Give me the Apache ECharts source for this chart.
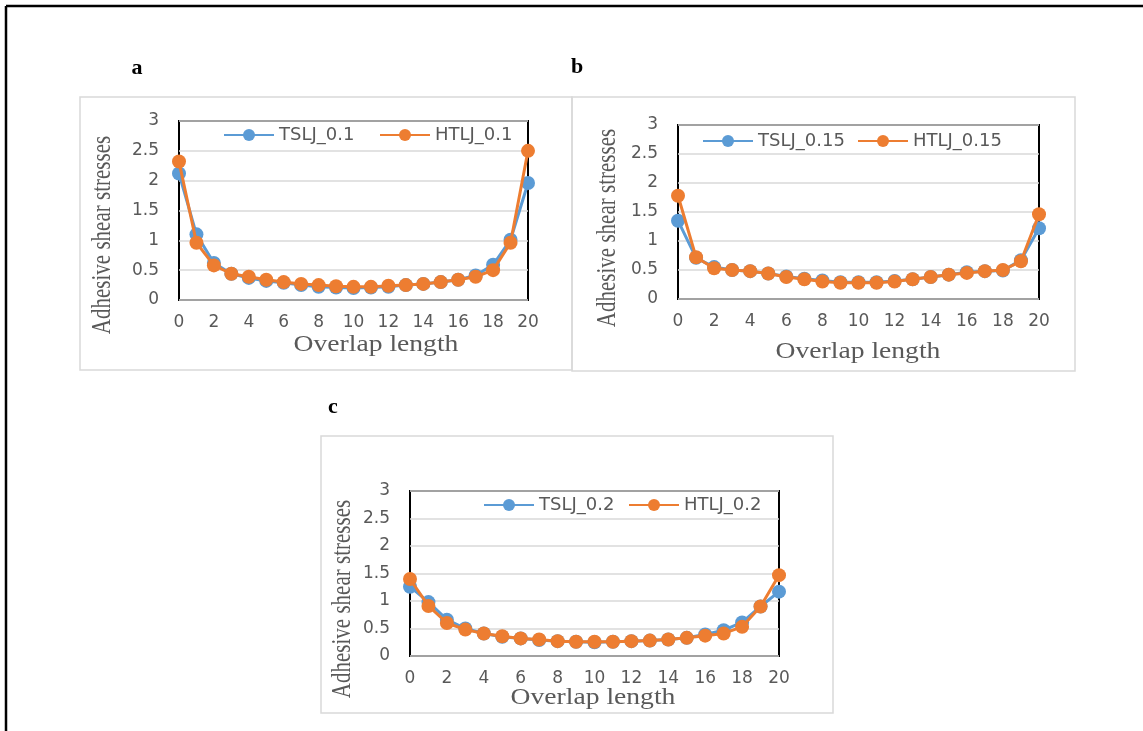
<!DOCTYPE html>
<html>
<head>
<meta charset="utf-8">
<script src="https://cdn.jsdelivr.net/npm/echarts@6/dist/echarts.min.js"></script>
<style>
html,body{margin:0;padding:0;background:#fff;}
#chart{width:1143px;height:731px;}
</style>
</head>
<body>
<div id="chart"></div>
<script>
// Data
var overlap = [0,1,2,3,4,5,6,7,8,9,10,11,12,13,14,15,16,17,18,19,20];
var tslj01 = [2.12,1.10,0.62,0.44,0.37,0.32,0.29,0.25,0.22,0.21,0.20,0.21,0.22,0.25,0.27,0.30,0.34,0.41,0.59,1.01,1.96];
var htlj01 = [2.32,0.96,0.58,0.44,0.39,0.34,0.30,0.27,0.25,0.23,0.22,0.22,0.24,0.25,0.27,0.30,0.34,0.39,0.50,0.96,2.50];
var tslj015 = [1.35,0.71,0.55,0.50,0.48,0.44,0.39,0.35,0.32,0.29,0.29,0.29,0.31,0.34,0.38,0.42,0.46,0.48,0.49,0.67,1.22];
var htlj015 = [1.78,0.72,0.53,0.50,0.48,0.44,0.38,0.34,0.30,0.28,0.28,0.28,0.30,0.34,0.38,0.42,0.45,0.48,0.50,0.65,1.46];
var tslj02 = [1.26,0.98,0.66,0.50,0.41,0.35,0.32,0.29,0.27,0.26,0.25,0.26,0.27,0.28,0.30,0.33,0.39,0.47,0.61,0.90,1.17];
var htlj02 = [1.40,0.91,0.60,0.48,0.41,0.36,0.32,0.30,0.27,0.26,0.26,0.26,0.27,0.28,0.30,0.33,0.37,0.41,0.53,0.90,1.47];
var panelLabels = ['a','b','c'];
var seriesNames = [['TSLJ_0.1','HTLJ_0.1'],['TSLJ_0.15','HTLJ_0.15'],['TSLJ_0.2','HTLJ_0.2']];
var xTitle = 'Overlap length';
var yTitle = 'Adhesive shear stresses';

var BLUE = '#5B9BD5', ORANGE = '#ED7D31';
var tickFont = '"DejaVu Sans", "Noto Sans", sans-serif';
var serif = '"Liberation Serif", "DejaVu Serif", serif';

function pairs(v){ return overlap.map(function(x,i){ return [x, v[i]]; }); }

var grids = [
  {left:179, top:121, width:349, height:179},
  {left:678, top:125, width:361, height:174},
  {left:410, top:491, width:369, height:165}
];
// legend item positions [left of TSLJ, left of HTLJ, top]
var legendPos = [
  [223, 379, 126],
  [702, 857, 132],
  [483, 628, 496]
];
var dataSets = [[tslj01, htlj01],[tslj015, htlj015],[tslj02, htlj02]];

var option = {
  animation:false,
  backgroundColor:'#fff',
  grid: grids.map(function(g){ return Object.assign({show:true, borderColor:'#000', borderWidth:2, backgroundColor:'transparent', containLabel:false}, g); }),
  xAxis: grids.map(function(g,i){ return {
    type:'value', gridIndex:i, min:0, max:20, interval:2,
    axisLine:{show:false}, axisTick:{show:false}, splitLine:{show:false},
    axisLabel:{color:'#595959', fontSize:17, fontFamily:tickFont, margin:14}
  };}),
  yAxis: grids.map(function(g,i){ return {
    type:'value', gridIndex:i, min:0, max:3, interval:0.5,
    axisLine:{show:false}, axisTick:{show:false},
    splitLine:{show:true, lineStyle:{color:'#d9d9d9', width:1.5}},
    axisLabel:{color:'#595959', fontSize:17, fontFamily:tickFont, margin:20}
  };}),
  legend: [],
  series: [],
  graphic: []
};

legendPos.forEach(function(p,i){
  [0,1].forEach(function(j){
    option.legend.push({
      left:p[j], top:p[2], padding:0, itemWidth:50, itemHeight:15,
      data:[seriesNames[i][j]],
      textStyle:{color:'#595959', fontSize:18, fontFamily:tickFont}
    });
  });
});

dataSets.forEach(function(ds,i){
  [BLUE, ORANGE].forEach(function(c,j){
    option.series.push({
      type:'line', name:seriesNames[i][j], xAxisIndex:i, yAxisIndex:i,
      data:pairs(ds[j]), symbol:'circle', symbolSize:14, clip:false,
      itemStyle:{color:c}, lineStyle:{color:c, width:3}, z:2+j
    });
  });
});

var g = option.graphic;
// outer frame
g.push({type:'line', shape:{x1:6, y1:6, x2:1143, y2:6}, style:{stroke:'#000', lineWidth:2.5}, z:0});
g.push({type:'line', shape:{x1:6, y1:6, x2:6, y2:731}, style:{stroke:'#000', lineWidth:2.5}, z:0});
// panel boxes
[[80,97,492,273],[572,97,503,274],[321,436,512,277]].forEach(function(b){
  g.push({type:'rect', shape:{x:b[0], y:b[1], width:b[2], height:b[3]}, style:{fill:null, stroke:'#d9d9d9', lineWidth:1.5}, z:0, silent:true});
});
// panel letters
[[137,68],[577,67],[333,407]].forEach(function(p,i){
  g.push({type:'text', x:p[0], y:p[1], style:{text:panelLabels[i], font:'bold 22px '+serif, fill:'#000', textAlign:'center', textVerticalAlign:'middle'}});
});
// x titles
[[376,345],[858,352],[593,698]].forEach(function(p){
  g.push({type:'text', x:p[0], y:p[1], scaleX:1.2, style:{text:xTitle, font:'23px '+serif, fill:'#595959', textAlign:'center', textVerticalAlign:'middle'}});
});
// y titles
[[103,235],[608,228],[343,599]].forEach(function(p){
  g.push({type:'text', x:p[0], y:p[1], rotation:Math.PI/2, scaleY:1.3, style:{text:yTitle, font:'21px '+serif, fill:'#595959', textAlign:'center', textVerticalAlign:'middle'}});
});

var chart = echarts.init(document.getElementById('chart'), null, {renderer:'canvas'});
chart.setOption(option);
</script>
</body>
</html>
